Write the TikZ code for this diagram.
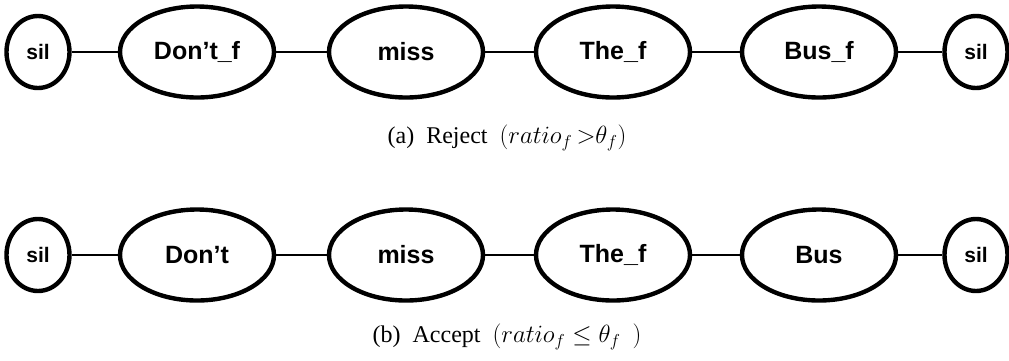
\documentclass[tikz,border=0pt]{standalone}
\usepackage{fontspec}
\usepackage{amsmath,amssymb}
\setmainfont{Liberation Serif}
\newfontfamily\wordfont[Ligatures=TeX]{Liberation Sans}
\usepackage{tikz}
\usetikzlibrary{shapes.geometric}

\tikzset{
  word/.style={ellipse, draw=black, line width=4.4pt, minimum width=154pt,
    minimum height=91pt, inner sep=0pt, font=\wordfont\bfseries\fontsize{25}{27}\selectfont},
  silnode/.style={word, minimum width=63pt, minimum height=72pt,
    font=\wordfont\bfseries\fontsize{21}{23}\selectfont},
  link/.style={line width=2pt},
  caption/.style={font=\fontsize{24}{28}\selectfont}
}

\begin{document}
\begin{tikzpicture}[x=1pt,y=1pt]
		\useasboundingbox (0,0) rectangle (1009,-360);
		
		% Rejected hypothesis (top row)
		\node[silnode] (a0) at (38,-52) {sil};
		\foreach \i/\x/\w in {1/197/Don't\_f, 2/406/miss, 3/613/The\_f, 4/819/Bus\_f}{
			\node[word] (a\i) at (\x,-52) {\w};
		}
		\node[silnode] (a5) at (976,-52) {sil};
		\foreach \i/\j in {0/1,1/2,2/3,3/4,4/5}{
			\draw[link] (a\i) -- (a\j);
		}
		\node[caption] (capa) at (507,-138) {(a)\ \ Reject\ \ $(ratio_f\,{>}\theta_f)$};
		
		% Accepted hypothesis (bottom row)
		\node[silnode] (b0) at (38,-255) {sil};
		\foreach \i/\x/\w in {1/197/Don't, 2/406/miss, 3/613/The\_f, 4/819/Bus}{
			\node[word] (b\i) at (\x,-255) {\w};
		}
		\node[silnode] (b5) at (976,-255) {sil};
		\foreach \i/\j in {0/1,1/2,2/3,3/4,4/5}{
			\draw[link] (b\i) -- (b\j);
		}
		\node[caption] (capb) at (507,-337) {(b)\ \ Accept\ \ $(ratio_f \leq\theta_f\ \ )$};
	\end{tikzpicture}
\end{document}
